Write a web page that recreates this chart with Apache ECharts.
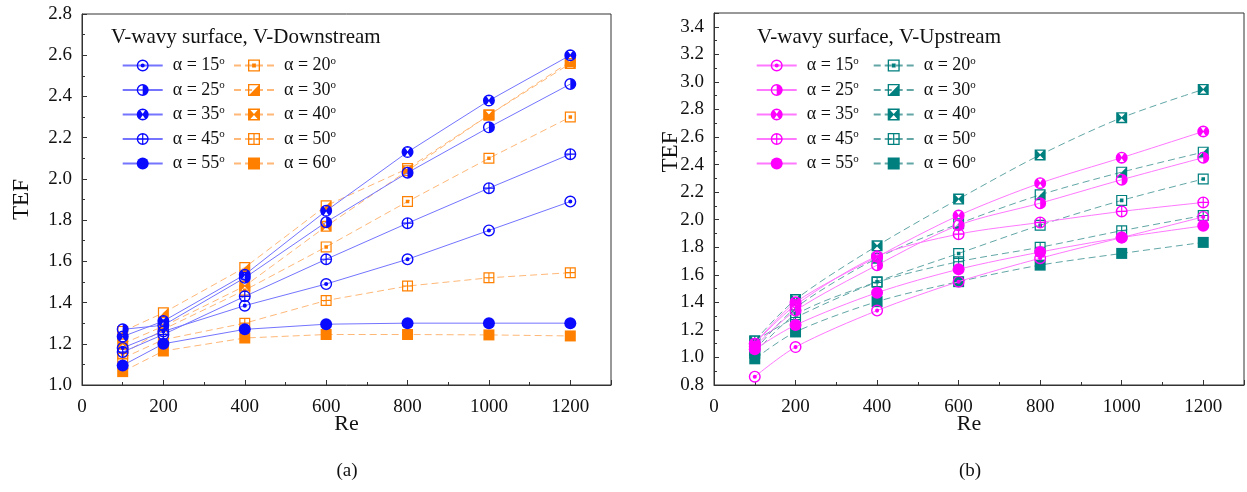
<!DOCTYPE html>
<html><head><meta charset="utf-8">
<script src="https://cdn.jsdelivr.net/npm/echarts@6/dist/echarts.min.js"></script>
<style>
html,body{margin:0;padding:0;background:#fff;}
#a{position:absolute;left:0;top:0;width:640px;height:492px;}
#b{position:absolute;left:640px;top:0;width:607px;height:492px;}
</style></head>
<body><div id="a"></div><div id="b"></div>
<script>
// ---- data ----
const reValues = [100, 200, 400, 600, 800, 1000, 1200];
const xTicks = [0, 200, 400, 600, 800, 1000, 1200];
const circleAngles = ['15', '25', '35', '45', '55'];
const squareAngles = ['20', '30', '40', '50', '60'];

// (a) V-Downstream
const down15 = [1.18, 1.26, 1.385, 1.49, 1.61, 1.75, 1.89];
const down25 = [1.27, 1.29, 1.52, 1.79, 2.03, 2.25, 2.46];
const down35 = [1.235, 1.31, 1.535, 1.845, 2.13, 2.38, 2.60];
const down45 = [1.16, 1.245, 1.43, 1.61, 1.785, 1.955, 2.12];
const down55 = [1.095, 1.20, 1.27, 1.295, 1.30, 1.30, 1.30];
const down20 = [1.15, 1.27, 1.46, 1.67, 1.89, 2.10, 2.30];
const down30 = [1.26, 1.35, 1.57, 1.87, 2.05, 2.31, 2.57];
const down40 = [1.20, 1.285, 1.48, 1.77, 2.04, 2.31, 2.56];
const down50 = [1.13, 1.22, 1.30, 1.41, 1.48, 1.52, 1.545];
const down60 = [1.065, 1.165, 1.228, 1.245, 1.245, 1.243, 1.238];

// (b) V-Upstream
const up15 = [0.86, 1.075, 1.34, 1.55, 1.72, 1.87, 2.02];
const up25 = [1.08, 1.34, 1.67, 1.96, 2.12, 2.29, 2.45];
const up35 = [1.10, 1.40, 1.73, 2.03, 2.265, 2.45, 2.64];
const up45 = [1.10, 1.38, 1.735, 1.895, 1.98, 2.06, 2.125];
const up55 = [1.06, 1.235, 1.47, 1.64, 1.765, 1.87, 1.955];
const up20 = [1.03, 1.31, 1.55, 1.755, 1.96, 2.14, 2.295];
const up30 = [1.05, 1.36, 1.72, 1.97, 2.18, 2.345, 2.49];
const up40 = [1.12, 1.42, 1.81, 2.15, 2.47, 2.74, 2.945];
const up50 = [1.12, 1.29, 1.545, 1.695, 1.80, 1.92, 2.03];
const up60 = [0.99, 1.185, 1.405, 1.55, 1.67, 1.755, 1.835];

// ---- styling ----
const FONT = '"Liberation Serif", "Times New Roman", serif';
const RING_C = 'M10 0A10 10 0 1 1 10 20A10 10 0 1 1 10 0Z M10 2.3A7.7 7.7 0 1 0 10 17.7A7.7 7.7 0 1 0 10 2.3Z';
const RING_S = 'M0 0H20V20H0Z M2.2 2.2V17.8H17.8V2.2Z';
const SYM = {
  '15': 'path://' + RING_C + ' M10 6.6A3.4 3.4 0 1 1 10 13.4A3.4 3.4 0 1 1 10 6.6Z',
  '25': 'path://' + RING_C + ' M10 2.3A7.7 7.7 0 0 1 10 17.7Z',
  '35': 'path://M10 0A10 10 0 1 1 10 20A10 10 0 1 1 10 0Z M6 2.8L10 9L14 2.8Z M6 17.2L14 17.2L10 11Z',
  '45': 'path://' + RING_C + ' M9 2.3H11V17.7H9Z M2.3 9H17.7V11H2.3Z',
  '55': 'circle',
  '20': 'path://' + RING_S + ' M6.8 6.8H13.2V13.2H6.8Z',
  '30': 'path://' + RING_S + ' M17.8 2.2V17.8H2.2Z',
  '40': 'path://M0 0H20V20H0Z M4 2.5L10 9L16 2.5Z M4 17.5L16 17.5L10 11Z',
  '50': 'path://' + RING_S + ' M9 2.2H11V17.8H9Z M2.2 9H17.8V11H2.2Z',
  '60': 'rect'
};

function mkSeries(angle, values, mark, line, dashed, smooth) {
  const isCircle = circleAngles.indexOf(angle) >= 0;
  return {
    name: 'α = ' + angle + '°',
    type: 'line',
    data: reValues.map((r, i) => [r, values[i]]),
    symbol: SYM[angle],
    symbolSize: isCircle ? 12 : 11,
    symbolKeepAspect: true,
    smooth: smooth,
    itemStyle: { color: mark, borderWidth: 0 },
    lineStyle: { color: line, width: 1, type: dashed ? [7, 4] : 'solid' },
    emphasis: { disabled: true },
    z: isCircle ? 3 : 2
  };
}

function legendText(name) {
  return '{t|' + name.replace('°', '') + '}{s|o}';
}

function legend(names, left) {
  return {
    orient: 'vertical', left: left, top: 55.5, padding: 0,
    data: names,
    itemWidth: 40, itemHeight: 15, itemGap: 5.5,
    selectedMode: false,
    formatter: legendText,
    textStyle: {
      rich: {
        t: { fontFamily: FONT, fontSize: 18, color: '#111', lineHeight: 20, padding: [0, 0, 0, 5] },
        s: { fontFamily: FONT, fontSize: 11, color: '#111', lineHeight: 11, verticalAlign: 'top' }
      }
    }
  };
}

function axisCommon() {
  return {
    axisLine: { show: true, lineStyle: { color: '#333', width: 1 } },
    axisTick: { show: true, inside: true, length: 5, lineStyle: { color: '#333' } },
    minorTick: { show: true, splitNumber: 2, length: 3, lineStyle: { color: '#333' } },
    splitLine: { show: false },
    minorSplitLine: { show: false }
  };
}

function makeOption(cfg) {
  const names = cfg.series.map(s => s.name);
  const graphics = [
    { type: 'text', left: cfg.titleX, top: 27, style: { text: cfg.title, font: '21px ' + FONT, fill: '#111' } },
    { type: 'text', x: cfg.subX, y: 471, style: { text: cfg.sub, font: '19px ' + FONT, fill: '#111', align: 'center', verticalAlign: 'middle' } }
  ];
  if (cfg.tefText) {
    graphics.push({ type: 'text', x: cfg.tefText[0], y: cfg.tefText[1], rotation: Math.PI / 2,
      style: { text: 'TEF', font: '23px ' + FONT, fill: '#111', align: 'center', verticalAlign: 'middle' } });
  }
  return {
    animation: false,
    backgroundColor: '#fff',
    grid: { left: cfg.gl, top: cfg.gt, width: cfg.gw, height: cfg.gh, show: true, borderColor: '#333', borderWidth: 1, backgroundColor: 'transparent' },
    xAxis: Object.assign(axisCommon(), {
      type: 'value', min: 0, max: 1300, interval: 200,
      name: 'Re', nameLocation: 'middle', nameGap: 28, nameMoveOverlap: false,
      nameTextStyle: { fontFamily: FONT, fontSize: 22, color: '#111', padding: cfg.namePad },
      axisLabel: {
        fontFamily: FONT, fontSize: 19, color: '#111', margin: 13,
        formatter: v => (xTicks.indexOf(v) >= 0 ? String(v) : '')
      }
    }),
    yAxis: Object.assign(axisCommon(), {
      type: 'value', min: cfg.ymin, max: cfg.ymax, interval: 0.2,
      name: cfg.tefText ? '' : 'TEF', nameLocation: 'middle', nameGap: cfg.yGap, nameRotate: 90, nameMoveOverlap: false,
      nameTextStyle: { fontFamily: FONT, fontSize: 23, color: '#111' },
      axisLabel: {
        fontFamily: FONT, fontSize: 19, color: '#111', margin: 10,
        formatter: v => (v > cfg.ymaxLabel + 1e-6 ? '' : v.toFixed(1))
      }
    }),
    legend: [legend(names.slice(0, 5), cfg.l1), legend(names.slice(5), cfg.l2)],
    graphic: graphics,
    series: cfg.series
  };
}

const BLUE = '#0a0aff', BLUE_L = '#7474ff', ORANGE = '#ff8000', ORANGE_L = '#ffb878';
const MAG = '#ff00ff', MAG_L = '#ff78ff', TEAL = '#007f7f', TEAL_L = '#62a6a6';

const leftSeries = [
  mkSeries('15', down15, BLUE, BLUE_L, false, false),
  mkSeries('25', down25, BLUE, BLUE_L, false, false),
  mkSeries('35', down35, BLUE, BLUE_L, false, false),
  mkSeries('45', down45, BLUE, BLUE_L, false, false),
  mkSeries('55', down55, BLUE, BLUE_L, false, false),
  mkSeries('20', down20, ORANGE, ORANGE_L, true, false),
  mkSeries('30', down30, ORANGE, ORANGE_L, true, false),
  mkSeries('40', down40, ORANGE, ORANGE_L, true, false),
  mkSeries('50', down50, ORANGE, ORANGE_L, true, false),
  mkSeries('60', down60, ORANGE, ORANGE_L, true, false)
];
const rightSeries = [
  mkSeries('15', up15, MAG, MAG_L, false, 0.3),
  mkSeries('25', up25, MAG, MAG_L, false, 0.3),
  mkSeries('35', up35, MAG, MAG_L, false, 0.3),
  mkSeries('45', up45, MAG, MAG_L, false, 0.3),
  mkSeries('55', up55, MAG, MAG_L, false, 0.3),
  mkSeries('20', up20, TEAL, TEAL_L, true, 0.3),
  mkSeries('30', up30, TEAL, TEAL_L, true, 0.3),
  mkSeries('40', up40, TEAL, TEAL_L, true, 0.3),
  mkSeries('50', up50, TEAL, TEAL_L, true, 0.3),
  mkSeries('60', up60, TEAL, TEAL_L, true, 0.3)
];

const chartA = echarts.init(document.getElementById('a'), null, { renderer: 'canvas' });
chartA.setOption(makeOption({
  gl: 82, gt: 14, gw: 529, gh: 371, ymin: 1.0, ymax: 2.8, ymaxLabel: 2.8, yGap: 48.5,
  namePad: [0, 0, 0, 0],
  l1: 121.7, l2: 233, titleX: 111, title: 'V-wavy surface, V-Downstream', subX: 347, sub: '(a)',
  series: leftSeries
}));

const chartB = echarts.init(document.getElementById('b'), null, { renderer: 'canvas' });
chartB.setOption(makeOption({
  gl: 74, gt: 13, gw: 532, gh: 372, ymin: 0.8, ymax: 3.5, ymaxLabel: 3.4, yGap: 26.5,
  namePad: [0, 20, 0, 0], tefText: [31, 152],
  l1: 115.7, l2: 232.7, titleX: 117, title: 'V-wavy surface, V-Upstream', subX: 330, sub: '(b)',
  series: rightSeries
}));
</script>
</body></html>
